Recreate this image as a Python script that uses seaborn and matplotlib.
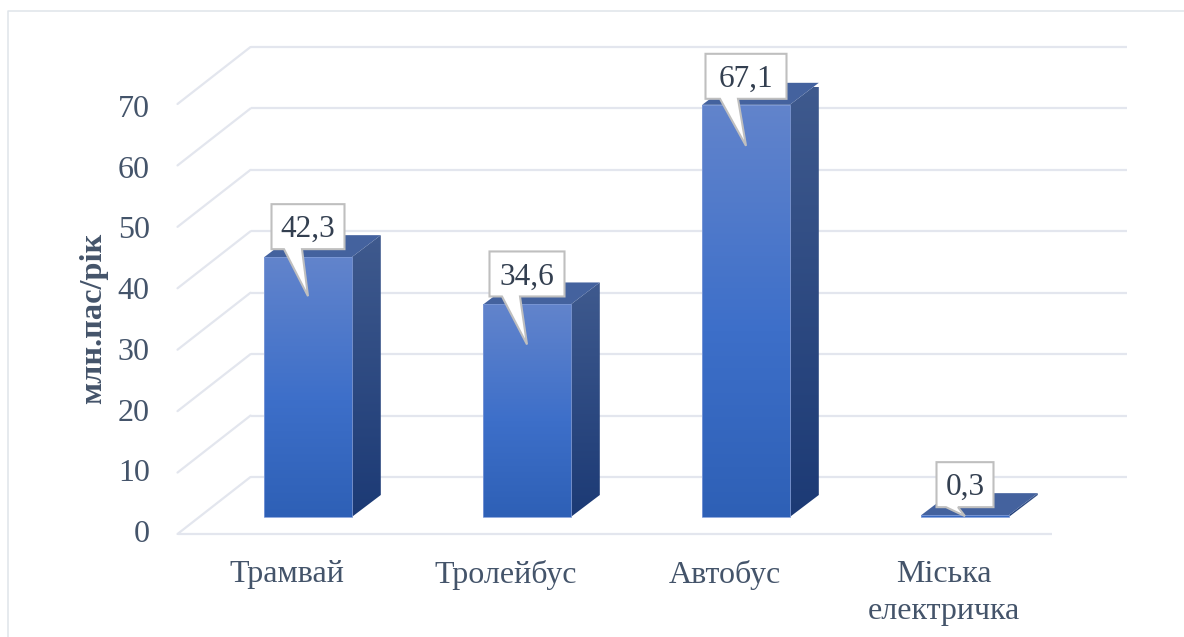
import numpy as np
import pandas as pd
import matplotlib
matplotlib.use("Agg")
import matplotlib.pyplot as plt
import seaborn as sns
from matplotlib.colors import LinearSegmentedColormap
from matplotlib.patches import Polygon
from matplotlib.lines import Line2D
from matplotlib.transforms import Affine2D

categories = ["Трамвай", "Тролейбус", "Автобус", "Міська\nелектричка"]
values = [42.3, 34.6, 67.1, 0.3]
value_labels = ["42,3", "34,6", "67,1", "0,3"]
y_ticks = [0, 10, 20, 30, 40, 50, 60, 70]
y_title = "млн.пас/рік"

W, H, DPI = 1184, 637, 100
sns.set_theme(style="white")
plt.rcParams["font.family"] = ["Liberation Serif", "DejaVu Serif"]

TEXT = "#44546A"
LABEL = "#333F50"
GRID = "#E3E6EE"

fig = plt.figure(figsize=(W / DPI, H / DPI), dpi=DPI, facecolor="white")
L, R, T, B = 198.5, 1074.5, 87.0, 517.0
ax = fig.add_axes([L / W, 1 - B / H, (R - L) / W, (B - T) / H])
ax.patch.set_alpha(0)

df = pd.DataFrame({"category": categories, "value": values})
sns.barplot(data=df, x="category", y="value", width=0.4, color="#3E70CA", ax=ax,
            saturation=1, zorder=3)
ax.set_xlim(-0.5, 3.5)
ax.set_ylim(0, 70)
px_x = 1 / ((R - L) / 4)
px_y = 70 / (B - T)

for s in ax.spines.values():
    s.set_visible(False)

# walls
back_dx, back_dy = 52 * px_x, 40 * px_y
front_dx, front_dy = -21 * px_x, -17 * px_y
for v in y_ticks:
    ax.plot([-0.5 + back_dx, 3.5 + back_dx], [v + back_dy] * 2, color=GRID, lw=1.6,
            clip_on=False, zorder=1, solid_capstyle="butt")
    ax.plot([-0.5 + front_dx, -0.5 + back_dx], [v + front_dy, v + back_dy], color=GRID, lw=1.6,
            clip_on=False, zorder=1)
ax.plot([-0.5 + front_dx, 3.5 + front_dx - 1.5 * px_x], [front_dy] * 2, color=GRID, lw=1.6,
        clip_on=False, zorder=1, solid_capstyle="butt")

# bars
front_cm = LinearSegmentedColormap.from_list("f", [(0, "#6284CC"), (0.55, "#3D6FC9"), (1, "#2E60B6")])
side_cm = LinearSegmentedColormap.from_list("s", ["#3F5A8E", "#1C3A75"])
grad = np.linspace(0, 1, 256)[:, None]
depth_x, depth_y = 29 * px_x, 22 * px_y

for i, bar in enumerate(ax.patches):
    x0, w, v = bar.get_x(), bar.get_width(), bar.get_height()
    x1 = x0 + w
    bar.set_facecolor("none")
    bar.set_edgecolor("none")
    front = Polygon([(x0, 0), (x1, 0), (x1, v), (x0, v)], closed=True, fc="none",
                    ec="#7F9BD8", lw=0.6, clip_on=False, zorder=3.2)
    ax.add_patch(front)
    im = ax.imshow(grad, cmap=front_cm, aspect="auto", extent=(x0, x1, 0, v), origin="upper",
                   zorder=3, interpolation="bilinear")
    im.set_clip_path(front)
    side = Polygon([(x1, 0), (x1 + depth_x, depth_y), (x1 + depth_x, v + depth_y), (x1, v)],
                   closed=True, fc="none", ec="none", clip_on=False, zorder=3)
    ax.add_patch(side)
    im2 = ax.imshow(grad, cmap=side_cm, aspect="auto",
                    extent=(x1, x1 + depth_x, 0, v + depth_y), origin="upper", zorder=3,
                    interpolation="bilinear")
    im2.set_clip_path(side)
    ax.add_patch(Polygon([(x0, v), (x1, v), (x1 + depth_x, v + depth_y), (x0 + depth_x, v + depth_y)],
                         closed=True, fc="#44629E", ec="none", clip_on=False, zorder=3))

ax.set_xlim(-0.5, 3.5)
ax.set_ylim(0, 70)

# callouts, offsets in pixels from the bar's top centre
half_w = [36.5, 37.5, 40.5, 28.5]
base_l = [-24, -25, -26, -19]
base_r = [-6, -7, -8, -7]
tip_dy = [39, 40, 41, 1]
box_gap = [8, 8, 6, 8]
for i, (v, lab) in enumerate(zip(values, value_labels)):
    h = 45 * px_y
    y_bot = v + box_gap[i] * px_y
    tip = (i, v - tip_dy[i] * px_y)
    hw = half_w[i] * px_x
    ax.add_patch(Polygon([(i - hw, y_bot), (i + base_l[i] * px_x, y_bot), tip,
                          (i + base_r[i] * px_x, y_bot), (i + hw, y_bot),
                          (i + hw, y_bot + h), (i - hw, y_bot + h)],
                         closed=True, fc="white", ec="#BFBFBF", lw=1.5, clip_on=False, zorder=5,
                         joinstyle="miter"))
    ax.text(i, y_bot + h / 2 - 3 * px_y, lab, ha="center", va="center", fontsize=22.5, color=LABEL,
            zorder=6, clip_on=False)

# axis labels
ax.set_xlabel("")
ax.set_ylabel("")
ax.set_yticks(y_ticks)
ax.set_xticks(range(4))
ax.set_xticklabels(categories)
ax.tick_params(axis="both", length=0, labelsize=23, labelcolor=TEXT)
ax.tick_params(axis="y", pad=20)
ax.tick_params(axis="x", pad=19)
off = Affine2D().translate(-21, -17)
for tick_value, lab in zip(y_ticks, ax.get_yticklabels()):
    # the reference's tick labels are spaced slightly tighter than its gridlines
    lab.set_transform(lab.get_transform() + Affine2D().translate(-21, -14 - tick_value * 5 / 70))
for lab in ax.get_xticklabels():
    lab.set_transform(lab.get_transform() + off)
    lab.set_linespacing(1.35)
fig.text(94 / W, 1 - 318 / H, y_title, rotation=90, ha="center", va="center",
         fontsize=23.3, fontweight="bold", color=TEXT)

# frame: left edge and top edge only
frame = "#DFE4EA"
fig.add_artist(Line2D([8 / W, 8 / W, 1], [0, 1 - 11 / H, 1 - 11 / H], transform=fig.transFigure,
                      color=frame, lw=1.1))
fig.savefig("out.png", dpi=DPI)
